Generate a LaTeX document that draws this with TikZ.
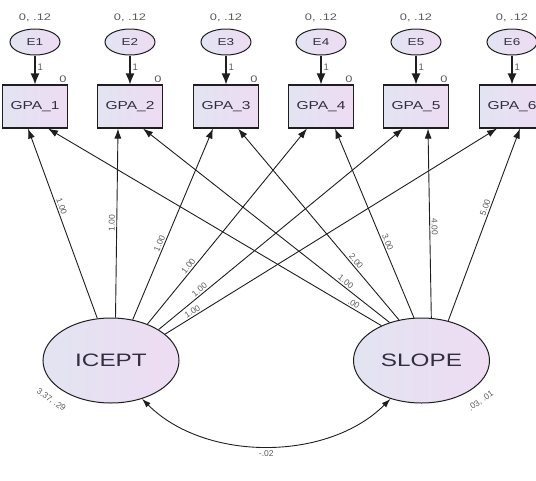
\documentclass[tikz,border=0pt]{standalone}
\usepackage{fontspec}
\setmainfont{Liberation Sans}
\usepackage{graphicx}
\usetikzlibrary{arrows.meta,shapes.geometric}
\definecolor{fillA}{RGB}{226,228,242}
\definecolor{fillB}{RGB}{238,220,242}
\definecolor{txt}{RGB}{50,45,65}
\definecolor{lbl}{RGB}{90,90,90}
\definecolor{ln}{RGB}{30,30,30}
\newcommand{\sx}[1]{\scalebox{1.35}[1]{#1}}
\begin{document}
\begin{tikzpicture}[x=1pt,y=1pt,
  obs/.style={draw=ln, line width=1.1pt, rectangle, minimum width=65pt, minimum height=43pt,
    inner sep=0pt, left color=fillA, right color=fillB, font=\fontsize{11.5}{11.5}\selectfont, text=txt},
  err/.style={draw=ln, line width=1pt, ellipse, minimum width=50pt, minimum height=26pt,
    inner sep=0pt, left color=fillA, right color=fillB, font=\fontsize{10}{10}\selectfont, text=txt},
  lat/.style={draw=ln, line width=1pt, ellipse, minimum width=136pt, minimum height=85pt,
    inner sep=0pt, left color=fillA, right color=fillB, font=\fontsize{18}{18}\selectfont, text=txt},
  reg/.style={draw=ln, line width=0.9pt, -{Latex[length=10pt,width=7pt]}},
  eld/.style={draw=ln, line width=1.4pt, -{Latex[length=11pt,width=9pt]}},
  cov/.style={draw=ln, line width=0.9pt, {Latex[length=9pt,width=6pt]}-{Latex[length=9pt,width=6pt]}},
  wl/.style={font=\fontsize{8.5}{8.5}\selectfont, text=lbl, sloped, above, inner sep=1.5pt},
  small/.style={font=\fontsize{9.5}{9.5}\selectfont, text=lbl, inner sep=0pt},
  tiny/.style={font=\fontsize{8.5}{8.5}\selectfont, text=lbl, inner sep=0pt}
]
\useasboundingbox (0,0) rectangle (536,-480);
\clip (0,0) rectangle (536,-480);
\foreach \i/\x in {1/35,2/130,3/226,4/321,5/416,6/512}{
  \node[obs] (g\i) at (\x,-106.5) {\sx{GPA\_\i}};
  \node[err] (e\i) at (\x,-42) {\sx{E\i}};
  \node[small] (v\i) at (\x,-18) {\sx{0, .12}};
  \draw[eld] (e\i) -- (g\i) node[pos=0.4, right=2pt, small] {1};
}
\foreach \i in {1,...,5}{
  \node[small, anchor=south] (z\i) at ([xshift=28pt,yshift=2pt]g\i.north) {\sx{0}};
}
\node[lat] (ic) at (111,-360.5) {\sx{ICEPT}};
\node[lat] (sl) at (421.5,-360.5) {\sx{SLOPE}};
% ICEPT loadings
\draw[reg] (ic.108.4) -- ([xshift=-7pt]g1.south) node[wl,pos=0.58]{1.00};
\draw[reg] (ic.84.7) -- ([xshift=-12pt]g2.south) node[wl,pos=0.5]{1.00};
\draw[reg] (ic.62.4) -- ([xshift=-13pt]g3.south) node[wl,pos=0.39]{1.00};
\draw[reg] (ic.45) -- ([xshift=-14pt]g4.south) node[wl,pos=0.28]{1.00};
\draw[reg] (ic.33.1) -- ([xshift=-13pt]g5.south) node[wl,pos=0.18]{1.00};
\draw[reg] (ic.26.2) -- ([xshift=-15pt]g6.south) node[wl,pos=0.09]{1.00};
% SLOPE loadings
\draw[reg] (sl.139) -- ([xshift=13pt]g1.south) node[wl,pos=0.09]{.00};
\draw[reg] (sl.130) -- ([xshift=13pt]g2.south) node[wl,pos=0.19]{1.00};
\draw[reg] (sl.119) -- ([xshift=12pt]g3.south) node[wl,pos=0.29]{2.00};
\draw[reg] (sl.100.8) -- ([xshift=14pt]g4.south) node[wl,pos=0.39]{3.00};
\draw[reg] (sl.77) -- ([xshift=12pt]g5.south) node[wl,pos=0.48]{4.00};
\draw[reg] (sl.56.3) -- ([xshift=8pt]g6.south) node[wl,pos=0.58]{5.00};
% covariance
\draw[cov] (ic.-51) .. controls +(-45:89) and +(-135:89) .. (sl.-129)
  node[pos=0.5, below=4pt, tiny]{-.02};
% variances
\node[tiny, rotate=-35] (icv) at (51,-400) {3.37, .29};
\node[tiny, rotate=35] (slv) at (481,-401) {.03, .01};
\end{tikzpicture}
\end{document}
